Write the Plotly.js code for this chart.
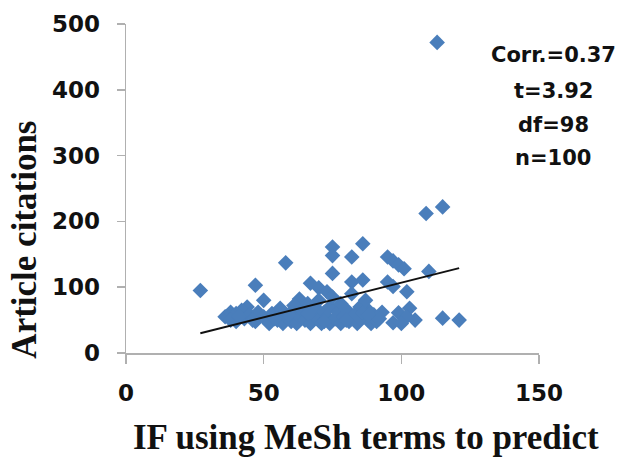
<!DOCTYPE html>
<html>
<head>
<meta charset="utf-8">
<script src="https://cdn.plot.ly/plotly-3.0.1.min.js"></script>
<style>html,body{margin:0;padding:0;background:#fff;}#chart{width:620px;height:457px;}</style>
</head>
<body>
<div id="chart"></div>
<script>
// IF using MeSH terms to predict (x) vs article citations (y)
const ifValues = [
  27, 113, 115, 109, 75, 75, 82, 86, 58, 47, 75, 67, 82, 86, 50, 44, 63, 70, 73,
  95, 97, 99, 101, 110, 95, 97, 102, 99, 103, 105, 97, 115, 121, 88, 88, 102, 100,
  36, 38, 40, 40, 42, 43, 45, 47, 48, 50, 52, 53, 55, 56, 57, 58, 60, 60, 61, 62,
  63, 64, 65, 66, 67, 68, 69, 70, 70, 71, 72, 73, 74, 74, 75, 76, 77, 78, 78, 79,
  80, 81, 82, 83, 84, 85, 85, 86, 87, 89, 90, 91, 93, 38, 41, 46, 54, 59, 66, 72,
  80, 88, 92
];
const citations = [
  95, 472, 222, 212, 161, 148, 146, 166, 137, 103, 121, 106, 108, 111, 80, 70, 82, 99, 93,
  146, 140, 134, 128, 124, 108, 101, 93, 61, 68, 50, 46, 53, 50, 65, 50, 55, 45,
  55, 62, 48, 60, 65, 52, 58, 48, 62, 55, 45, 60, 50, 68, 45, 55, 62, 48, 72, 45,
  55, 65, 50, 75, 45, 58, 68, 50, 80, 45, 62, 55, 70, 45, 85, 52, 62, 45, 75, 55,
  66, 48, 90, 58, 45, 70, 52, 62, 80, 45, 58, 48, 62, 50, 56, 50, 52, 58, 60, 48,
  50, 58, 52
];
const trendX = [27, 121];
const trendY = [30, 129];
const statLabels = ["Corr.=0.37", "t=3.92", "df=98", "n=100"];
const xTicks = [0, 50, 100, 150];
const yTicks = [0, 100, 200, 300, 400, 500];
const xTitle = "IF using MeSh terms to predict";
const yTitle = "Article citations";

const tickFont = {family: "DejaVu Sans, sans-serif", size: 23, color: "#111", weight: "bold"};
const titleFont = {family: "Liberation Serif, Times New Roman, serif", size: 35, color: "#111", weight: "bold"};

const traces = [
  {
    x: ifValues, y: citations, type: "scatter", mode: "markers",
    marker: {symbol: "diamond", size: 12, color: "#4a7ebb", line: {width: 0}},
    showlegend: false, hoverinfo: "x+y"
  },
  {
    x: trendX, y: trendY, type: "scatter", mode: "lines",
    line: {color: "#111", width: 2}, showlegend: false, hoverinfo: "skip"
  }
];

const statY = [0.906, 0.796, 0.693, 0.593];
const annotations = statLabels.map((t, i) => ({
  text: t, xref: "paper", yref: "paper", x: 1.034, y: statY[i],
  xanchor: "center", yanchor: "middle", showarrow: false,
  font: {family: "DejaVu Sans, sans-serif", size: 21, color: "#111", weight: "bold"}
}));
annotations.push({
  text: xTitle, xref: "paper", yref: "paper", x: 0.581, y: -0.258,
  xanchor: "center", yanchor: "middle", showarrow: false, font: titleFont
});
annotations.push({
  text: yTitle, xref: "paper", yref: "paper", x: -0.245, y: 0.344, textangle: -90,
  xanchor: "center", yanchor: "middle", showarrow: false, font: titleFont
});

const layout = {
  width: 620, height: 457,
  margin: {l: 126, r: 81, t: 24, b: 104},
  paper_bgcolor: "#fff", plot_bgcolor: "#fff",
  xaxis: {
    range: [0, 150], tickvals: xTicks, ticktext: xTicks.map(String),
    showgrid: false, zeroline: false, showline: true, linecolor: "#b0b0b0", linewidth: 1.5,
    ticks: "outside", ticklen: 9, tickcolor: "#b0b0b0", tickwidth: 1.5,
    tickfont: tickFont, ticklabelstandoff: 10
  },
  yaxis: {
    range: [0, 500], tickvals: yTicks, ticktext: yTicks.map(String),
    showgrid: false, zeroline: false, showline: true, linecolor: "#b0b0b0", linewidth: 1.5,
    ticks: "outside", ticklen: 8, tickcolor: "#b0b0b0", tickwidth: 1.5,
    tickfont: tickFont, ticklabelstandoff: 12
  },
  annotations: annotations
};

Plotly.newPlot("chart", traces, layout, {staticPlot: true, displayModeBar: false});
</script>
</body>
</html>
